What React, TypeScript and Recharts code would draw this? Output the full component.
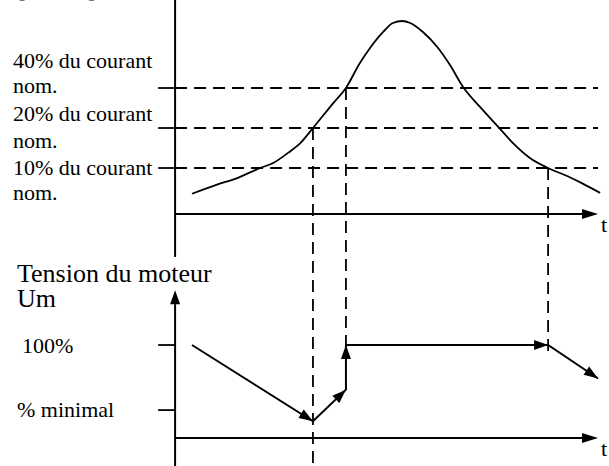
import { ComposedChart, Line, XAxis, YAxis, ReferenceLine } from 'recharts'

const W = 609
const H = 466
const FONT = "'Liberation Serif', 'Times New Roman', Times, serif"
const INK = '#000000'

// time: 0 at the vertical axes, 100 at the arrow tip of the t axes
const T_DOMAIN: [number, number] = [-41.4, 102.6]
// motor current in % of nominal, log scale so each doubling is one step
const I_DOMAIN: [number, number] = [0.0572, 183.8]
// motor voltage Um in %
const U_DOMAIN: [number, number] = [-30.1, 471]

const T_END = 100
const TICK_START = -4

// current panel
const currentLevels = [40, 20, 10]
const currentLabels = ['40% du courant', '20% du courant', '10% du courant']
const currentAxisLevel = 4.5
const currentAxisBottom = 2.14

const currentT = [4, 9.9, 14.7, 20.1, 23.2, 26.7, 29.6, 32.6, 37.4, 40.4, 43.7, 46.1, 49.2, 51.5, 53.7, 55.6, 58.6, 62, 65, 68.1, 72.1, 76.4, 79.9, 83.9, 88.2, 92.7, 96.5, 100.5]
const currentI = [6.4, 7.5, 8.4, 10, 10.9, 13, 15.4, 20, 30.8, 40, 61.7, 80, 105.6, 123.4, 127.7, 123.4, 105.6, 81.4, 59.6, 40.7, 28.8, 20.4, 15.4, 11.9, 10, 8.7, 7.6, 6.5]

// voltage panel
const voltageT = [4, 32.6, 40.4, 40.4, 88.2, 100]
const voltageU = [100, 18, 52, 100, 100, 64]
const voltageTicks = [100, 30]
const voltageLabels = ['100%', '% minimal']
const voltageAxisTop = 159

// threshold crossings carried down to the voltage panel
const crossT = [32.6, 40.4, 88.2]
const crossLevel = [20, 40, 10]
const crossEndU = [U_DOMAIN[0], 100, 86]

const currentData = currentT.map((t, k) => ({ t, i: currentI[k] }))
const voltageData = voltageT.map((t, k) => ({ t, u: voltageU[k] }))

// same vertical position expressed on the current axis
const uToI = (u: number) => {
  const p = (u - U_DOMAIN[0]) / (U_DOMAIN[1] - U_DOMAIN[0])
  const a = Math.log10(I_DOMAIN[0])
  const b = Math.log10(I_DOMAIN[1])
  return 10 ** (a + p * (b - a))
}

const currentLabelDy = [[-20, 5], [-7, 20], [7, 32]]
const voltageLabelPos = [{ x: 22, dy: 8 }, { x: 17, dy: 7 }]

const Txt = ({ x, y, size = 22, children }: any) => (
  <text x={x} y={y} style={{ fontFamily: FONT, fontSize: size }} fill={INK}>
    {children}
  </text>
)

const arrowHead = (x1: number, y1: number, x2: number, y2: number, len = 15, half = 5) => {
  const a = Math.atan2(y2 - y1, x2 - x1)
  const bx = x2 - len * Math.cos(a)
  const by = y2 - len * Math.sin(a)
  const nx = -Math.sin(a) * half
  const ny = Math.cos(a) * half
  return { bx, by, pts: `${x2},${y2} ${bx + nx},${by + ny} ${bx - nx},${by - ny}` }
}

const ArrowLine = (p: any) => {
  const { x1, y1, x2, y2 } = p
  const h = arrowHead(x1, y1, x2, y2, p.len ?? 16, 5)
  return (
    <g>
      <line x1={x1} y1={y1} x2={h.bx} y2={h.by} stroke={INK} strokeWidth={2} />
      <polygon points={h.pts} fill={INK} />
      {p.tLabel && <Txt x={x2 + 3} y={y2 + 18}>t</Txt>}
      {p.title && p.title.map((s: string, k: number) => (
        <Txt key={k} x={17} y={y2 - 8 + k * 25} size={26}>{s}</Txt>
      ))}
    </g>
  )
}

const PlainAxis = (p: any) => (
  <g>
    <line x1={p.x1} y1={p.y1} x2={p.x2} y2={p.y2} stroke={INK} strokeWidth={2} />
    <Txt x={18} y={p.y1 - 3}>[% nom]</Txt>
  </g>
)

const TickLabel = (p: any) => (
  <g>
    <line x1={p.x1} y1={p.y1} x2={p.x2} y2={p.y2} stroke={INK} strokeWidth={1.8} />
    {p.lines.map((s: string, k: number) => (
      <Txt key={k} x={p.lx} y={p.y1 + p.dys[k]}>{s}</Txt>
    ))}
  </g>
)

const ArrowDot = (p: any) => {
  const { cx, cy, index, points } = p
  if (!index || !points || !points[index - 1]) return <g key={`a-${index}`} />
  const prev = points[index - 1]
  const h = arrowHead(prev.x, prev.y, cx, cy, 14, 5)
  return <polygon key={`a-${index}`} points={h.pts} fill={INK} />
}

export default function App() {
  return (
    <div style={{ position: 'absolute', left: 0, top: 0, width: W, height: H, background: '#fff' }}>
      <ComposedChart width={W} height={H} margin={{ top: 0, right: 0, bottom: 0, left: 0 }}>
        <XAxis type="number" dataKey="t" domain={T_DOMAIN} allowDataOverflow hide />
        <YAxis yAxisId="i" type="number" scale="log" domain={I_DOMAIN} allowDataOverflow hide />
        <YAxis yAxisId="u" type="number" domain={U_DOMAIN} allowDataOverflow hide />

        {/* current panel axes */}
        <ReferenceLine
          yAxisId="i"
          ifOverflow="visible"
          segment={[{ x: 0, y: I_DOMAIN[1] }, { x: 0, y: currentAxisBottom }]}
          shape={(p: any) => <PlainAxis {...p} />}
        />
        <ReferenceLine
          yAxisId="i"
          ifOverflow="visible"
          segment={[{ x: 0, y: currentAxisLevel }, { x: T_END, y: currentAxisLevel }]}
          shape={(p: any) => <ArrowLine {...p} tLabel />}
        />

        {/* current thresholds: dashed line, solid tick with label */}
        {currentLevels.map((lv) => (
          <ReferenceLine
            key={`lvl-${lv}`}
            yAxisId="i"
            ifOverflow="visible"
            segment={[{ x: 0, y: lv }, { x: T_END, y: lv }]}
            stroke={INK}
            strokeWidth={1.8}
            strokeDasharray="12 7"
          />
        ))}
        {currentLevels.map((lv, k) => (
          <ReferenceLine
            key={`tick-${lv}`}
            yAxisId="i"
            ifOverflow="visible"
            segment={[{ x: TICK_START, y: lv }, { x: 0, y: lv }]}
            shape={(p: any) => <TickLabel {...p} lines={[currentLabels[k], 'nom.']} lx={13} dys={currentLabelDy[k]} />}
          />
        ))}

        {/* crossings carried down */}
        {crossT.map((t, k) => (
          <ReferenceLine
            key={`cross-${k}`}
            yAxisId="i"
            ifOverflow="visible"
            segment={[{ x: t, y: crossLevel[k] }, { x: t, y: uToI(crossEndU[k]) }]}
            stroke={INK}
            strokeWidth={1.8}
            strokeDasharray="12 7"
          />
        ))}

        {/* voltage panel axes */}
        <ReferenceLine
          yAxisId="u"
          ifOverflow="visible"
          segment={[{ x: 0, y: U_DOMAIN[0] }, { x: 0, y: voltageAxisTop }]}
          shape={(p: any) => <ArrowLine {...p} len={14} title={['Tension du moteur', 'Um']} />}
        />
        <ReferenceLine
          yAxisId="u"
          ifOverflow="visible"
          segment={[{ x: 0, y: 0 }, { x: T_END, y: 0 }]}
          shape={(p: any) => <ArrowLine {...p} tLabel />}
        />
        {voltageTicks.map((v, k) => (
          <ReferenceLine
            key={`vt-${v}`}
            yAxisId="u"
            ifOverflow="visible"
            segment={[{ x: TICK_START, y: v }, { x: 0, y: v }]}
            shape={(p: any) => <TickLabel {...p} lines={[voltageLabels[k]]} lx={voltageLabelPos[k].x} dys={[voltageLabelPos[k].dy]} />}
          />
        ))}

        <Line
          yAxisId="i"
          data={currentData}
          dataKey="i"
          type="monotone"
          stroke={INK}
          strokeWidth={1.8}
          dot={false}
          activeDot={false}
          isAnimationActive={false}
        />
        <Line
          yAxisId="u"
          data={voltageData}
          dataKey="u"
          type="linear"
          stroke={INK}
          strokeWidth={2}
          dot={(p: any) => <ArrowDot {...p} />}
          activeDot={false}
          isAnimationActive={false}
        />
      </ComposedChart>
    </div>
  )
}
